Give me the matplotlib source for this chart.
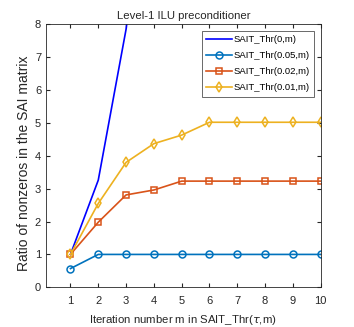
import numpy as np
import matplotlib.pyplot as plt

plt.rcParams['font.family'] = ['Liberation Sans', 'DejaVu Sans']
plt.rcParams['mathtext.fontset'] = 'dejavusans'

m = [1, 2, 3, 4, 5, 6, 7, 8, 9, 10]
thr_0 = [1.0, 3.26, 7.85, 15.0]
thr_005 = [0.57, 1.0, 1.0, 1.0, 1.0, 1.0, 1.0, 1.0, 1.0, 1.0]
thr_002 = [1.0, 1.98, 2.81, 2.96, 3.23, 3.23, 3.23, 3.23, 3.23, 3.23]
thr_001 = [1.0, 2.55, 3.80, 4.37, 4.63, 5.02, 5.02, 5.02, 5.02, 5.02]

labels = ['SAIT_Thr(0,m)', 'SAIT_Thr(0.05,m)', 'SAIT_Thr(0.02,m)', 'SAIT_Thr(0.01,m)']

fig = plt.figure(figsize=(3.54, 3.27), dpi=100)
ax = fig.add_axes([46/354, 1-287.3/327, (320.7-46)/354, (287.3-24.3)/327])

ax.plot(m[:len(thr_0)], thr_0, color='#0000FF', lw=1.2, label=labels[0])
ax.plot(m, thr_005, color='#0072BD', lw=1.2, marker='o', ms=5, mfc='none', mew=1.1, label=labels[1])
ax.plot(m, thr_002, color='#D95319', lw=1.2, marker='s', ms=5, mfc='none', mew=1.1, label=labels[2])
ax.plot(m, thr_001, color='#EDB120', lw=1.2, marker='d', ms=5.5, mfc='none', mew=1.1, label=labels[3])

ax.set_xlim(0.12, 10)
ax.set_ylim(0, 8)
ax.set_xticks(m)
ax.set_yticks(range(9))
ax.tick_params(direction='in', length=3, labelsize=8, colors='#262626', top=True, right=True)
ax.tick_params(axis='x', pad=6)
for s in ax.spines.values():
    s.set_color('#262626')
    s.set_linewidth(0.6)

ax.set_title('Level-1 ILU preconditioner', fontsize=8.2, color='#262626', pad=4)
ax.set_xlabel(r'Iteration number m in SAIT_Thr($\tau$,m)', fontsize=8.2, color='#262626', labelpad=5)
ax.set_ylabel('Ratio of nonzeros in the SAI matrix', fontsize=10, color='#262626')
ax.yaxis.set_label_coords(-0.055, 0.47)

leg = ax.legend(loc='upper right', fontsize=6.8, frameon=True, fancybox=False,
                edgecolor='#262626', handlelength=2.7, borderpad=0.45, labelspacing=0.75,
                handletextpad=0.2, borderaxespad=0.7)
leg.get_frame().set_linewidth(0.6)

fig.savefig('out.png', dpi=100)
